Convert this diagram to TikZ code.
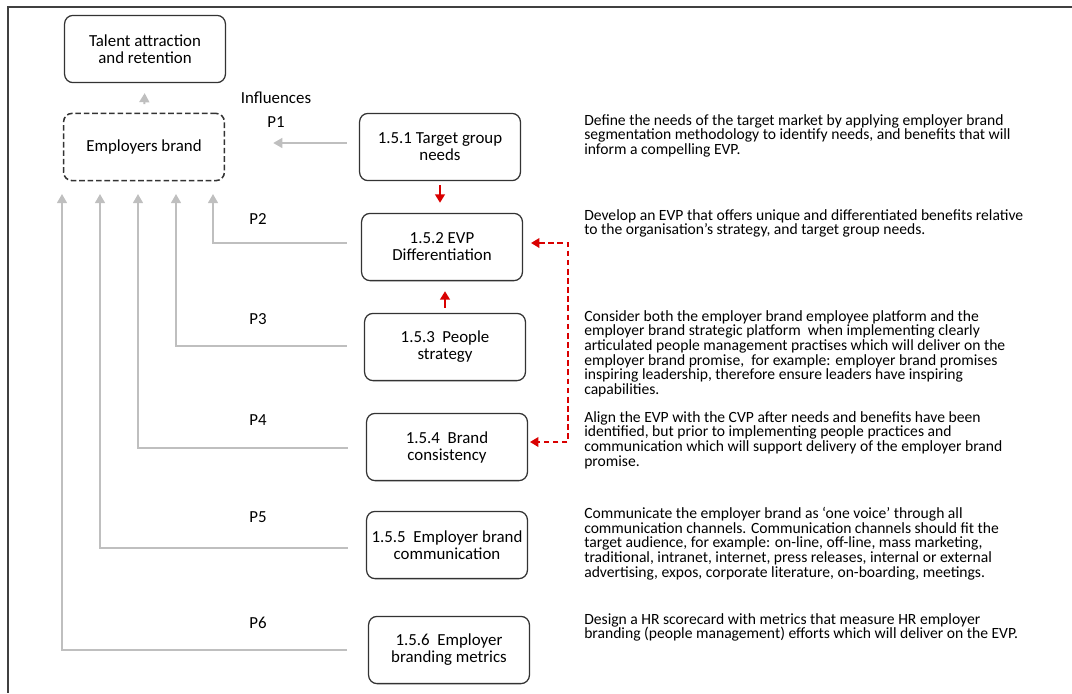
\documentclass[tikz,border=0pt]{standalone}
\usepackage{fontspec}
\setmainfont{Carlito}
\usetikzlibrary{positioning,arrows.meta}

\begin{document}
\begin{tikzpicture}[x=0.025cm, y=-0.025cm,
      box/.style={draw=black!80, line width=0.9pt, rounded corners=6pt, minimum width=4.02cm, minimum height=1.68cm, align=center, font=\fontsize{12}{12.1}\selectfont},
      desc/.style={anchor=north west, align=left, inner sep=0pt, font=\fontsize{11.1}{10.4}\selectfont},
      lab/.style={font=\fontsize{12}{12}\selectfont},
      grayarr/.style={draw=black!25, line width=1.4pt, -{Triangle[length=6.5pt,width=7pt]}},
      redarr/.style={draw=red!85!black, line width=1.2pt, -{Triangle[length=6pt,width=7pt]}},
      reddash/.style={draw=red!85!black, line width=1pt, dash pattern=on 4pt off 2.5pt, {Triangle[length=6pt,width=7pt]}-{Triangle[length=6pt,width=7pt]}}]
      \useasboundingbox (0,0) rectangle (1072,693);
      \draw[black!75, line width=0.9pt] (1072,7) -- (8,7) -- (8,693);
      % left column
      \node[box] (talent) at (145,49) {Talent attraction\\and retention};
      \node[box, dashed, dash pattern=on 4pt off 2pt, line width=1.1pt] (brand) at (144,147) {Employers brand};
      \node[lab] (infl) at (276,98) {Influences};
      % practice boxes
      \node[box] (tgn) at (440,147) {1.5.1 Target group\\needs};
      \node[box] (evp) at (442,247) {1.5.2 EVP\\Differentiation};
      \node[box] (people) at (445,347) {1.5.3\ \ People\\strategy};
      \node[box] (consist) at (447,447) {1.5.4\ \ Brand\\consistency};
      \node[box] (comm) at (447,545) {1.5.5\ \ Employer brand\\communication};
      \node[box] (metrics) at (449,650) {1.5.6\ \ Employer\\branding metrics};
      % P labels
      \node[lab] (p1) at (276,122) {P1};
      \node[lab] (p2) at (258,219) {P2};
      \node[lab] (p3) at (258,319) {P3};
      \node[lab] (p4) at (258,420) {P4};
      \node[lab] (p5) at (258,517) {P5};
      \node[lab] (p6) at (258,623) {P6};
      % descriptions
      \node[desc] (d1) at (584,114) {Define the needs of the target market by applying employer brand\\segmentation methodology to identify needs, and benefits that will\\inform a compelling EVP.};
      \node[desc] (d2) at (584,209) {Develop an EVP that offers unique and differentiated benefits relative\\to the organisation’s strategy, and target group needs.};
      \node[desc] (d3) at (584,310) {Consider both the employer brand employee platform and the\\employer brand strategic platform\ \ when implementing clearly\\articulated people management practises which will deliver on the\\employer brand promise,\ \ for example: employer brand promises\\inspiring leadership, therefore ensure leaders have inspiring\\capabilities.};
      \node[desc] (d4) at (584,411) {Align the EVP with the CVP after needs and benefits have been\\identified, but prior to implementing people practices and\\communication which will support delivery of the employer brand\\promise.};
      \node[desc] (d5) at (584,507) {Communicate the employer brand as ‘one voice’ through all\\communication channels. Communication channels should fit the\\target audience, for example: on-line, off-line, mass marketing,\\traditional, intranet, internet, press releases, internal or external\\advertising, expos, corporate literature, on-boarding, meetings.};
      \node[desc] (d6) at (584,613) {Design a HR scorecard with metrics that measure HR employer\\branding (people management) efforts which will deliver on the EVP.};
      % arrow heads of the influence lines
      \coordinate (u2) at (213,194);
      \coordinate (u3) at (176,194);
      \coordinate (u4) at (138,194);
      \coordinate (u5) at (100,194);
      \coordinate (u6) at (62,194);
      \draw[grayarr, shorten <=6pt, shorten >=7pt] (brand.north) -- (talent.south);
      \draw[grayarr, shorten <=0.3cm, shorten >=1.2cm] ([yshift=0.1cm]tgn.west) -- ([yshift=0.1cm]brand.east);
      \draw[grayarr] ([xshift=-0.35cm,yshift=0.1cm]evp.west) -| (u2);
      \draw[grayarr] ([xshift=-0.43cm,yshift=0.025cm]people.west) -| (u3);
      \draw[grayarr] ([xshift=-0.45cm,yshift=-0.025cm]consist.west) -| (u4);
      \draw[grayarr] ([xshift=-0.45cm,yshift=-0.075cm]comm.west) -| (u5);
      \draw[grayarr] ([xshift=-0.52cm]metrics.west) -| (u6);
      % red links
      \draw[redarr, shorten <=0.1cm, shorten >=0.25cm] (tgn.south) -- (tgn.south |- evp.north);
      \draw[redarr, shorten <=0.12cm, shorten >=0.25cm] (people.north) -- (people.north |- evp.south);
      \draw[reddash, shorten <=0.2cm, shorten >=0.05cm] ([yshift=0.1cm]evp.east) -- ++(45,0) |- ([yshift=0.125cm]consist.east);
    \end{tikzpicture}
\end{document}
